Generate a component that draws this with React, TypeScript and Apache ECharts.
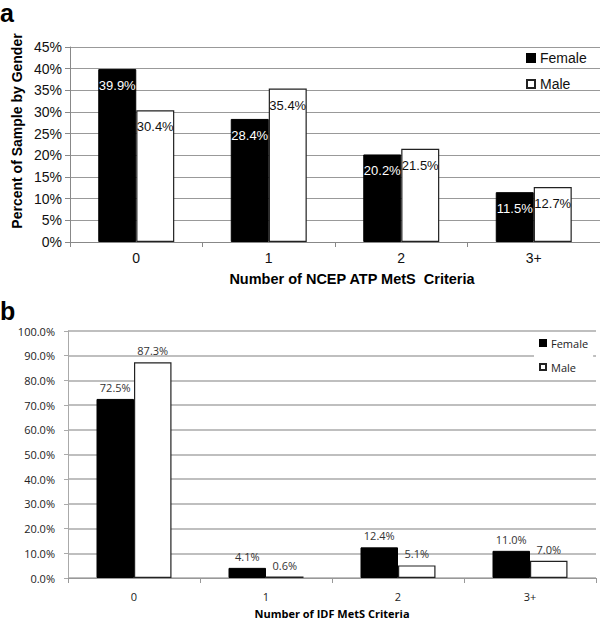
import React, { useEffect, useRef } from "react";
import * as echarts from "echarts";

const categories = ["0", "1", "2", "3+"];
const ncepFemale = [39.9, 28.4, 20.2, 11.5];
const ncepMale = [30.4, 35.4, 21.5, 12.7];
const idfFemale = [72.5, 4.1, 12.4, 11.0];
const idfMale = [87.3, 0.6, 5.1, 7.0];
const seriesNames = ["Female", "Male"];

const FA = "'Liberation Sans', Arial, Helvetica, sans-serif";
const FB = "'Open Sans', 'Noto Sans', sans-serif";

export default function App() {
  const ref = useRef<HTMLDivElement>(null);
  useEffect(() => {
    if (!ref.current) return;
    const chart = echarts.init(ref.current, null, { renderer: "svg" });
    const femaleStyle = { color: "#000", borderColor: "#000", borderWidth: 1 };
    const maleStyle = { color: "#fff", borderColor: "#222", borderWidth: 1.2 };
    chart.setOption({
      animation: false,
      backgroundColor: "#fff",
      grid: [
        { left: 70, top: 47, width: 530, height: 195 },
        { left: 68, top: 331, width: 528, height: 247 },
      ],
      legend: [
        {
          data: seriesNames,
          orient: "vertical",
          left: 521,
          top: 46,
          itemWidth: 8,
          itemHeight: 8,
          itemGap: 12,
          icon: "rect",
          textStyle: { fontFamily: FA, fontSize: 14, color: "#111", lineHeight: 14 },
        },
        {
          data: seriesNames,
          orient: "vertical",
          left: 534,
          top: 332,
          itemWidth: 6,
          itemHeight: 6,
          itemGap: 12,
          icon: "rect",
          backgroundColor: "#fff",
          textStyle: { fontFamily: FB, fontSize: 11, color: "#222", lineHeight: 12 },
        },
      ],
      xAxis: [
        {
          type: "category",
          gridIndex: 0,
          data: categories,
          axisLine: { lineStyle: { color: "#888", width: 1 } },
          axisTick: { show: true, length: 5, lineStyle: { color: "#888" } },
          axisLabel: { fontFamily: FA, fontSize: 14, color: "#111", margin: 9 },
        },
        {
          type: "category",
          gridIndex: 1,
          data: categories,
          axisLine: { lineStyle: { color: "#999", width: 1 } },
          axisTick: { show: true, length: 5, lineStyle: { color: "#999" } },
          axisLabel: { fontFamily: FB, fontSize: 11, color: "#222", margin: 13 },
        },
      ],
      yAxis: [
        {
          type: "value",
          gridIndex: 0,
          min: 0,
          max: 45,
          interval: 5,
          axisLine: { show: true, lineStyle: { color: "#888" } },
          axisTick: { show: true, length: 5, lineStyle: { color: "#888" } },
          axisLabel: { fontFamily: FA, fontSize: 14, color: "#111", margin: 8, formatter: "{value}%" },
          splitLine: { lineStyle: { color: "#999", width: 1 } },
        },
        {
          type: "value",
          gridIndex: 1,
          min: 0,
          max: 100,
          interval: 10,
          axisLine: { show: true, lineStyle: { color: "#aaa" } },
          axisTick: { show: true, length: 4, lineStyle: { color: "#aaa" } },
          axisLabel: {
            fontFamily: FB,
            fontSize: 11,
            color: "#222",
            margin: 13,
            formatter: (v: number) => v.toFixed(1) + "%",
          },
          splitLine: { lineStyle: { color: "#aaa", width: 1.5 } },
        },
      ],
      series: [
        {
          name: "Female",
          type: "bar",
          xAxisIndex: 0,
          yAxisIndex: 0,
          data: ncepFemale,
          barWidth: 38,
          barGap: "0%",
          itemStyle: femaleStyle,
          label: {
            show: true,
            position: "insideTop",
            distance: 10,
            color: "#fff",
            fontFamily: FA,
            fontSize: 13,
            formatter: (p: any) => p.value.toFixed(1) + "%",
          },
        },
        {
          name: "Male",
          type: "bar",
          xAxisIndex: 0,
          yAxisIndex: 0,
          data: ncepMale,
          barWidth: 38,
          barGap: "0%",
          itemStyle: maleStyle,
          label: {
            show: true,
            position: "insideTop",
            distance: 10,
            color: "#111",
            fontFamily: FA,
            fontSize: 13,
            formatter: (p: any) => p.value.toFixed(1) + "%",
          },
        },
        {
          name: "Female",
          type: "bar",
          xAxisIndex: 1,
          yAxisIndex: 1,
          data: idfFemale,
          barWidth: 37.5,
          barGap: "0%",
          itemStyle: femaleStyle,
          label: {
            show: true,
            position: "top",
            distance: 6,
            color: "#333",
            fontFamily: FB,
            fontSize: 11,
            formatter: (p: any) => p.value.toFixed(1) + "%",
          },
        },
        {
          name: "Male",
          type: "bar",
          xAxisIndex: 1,
          yAxisIndex: 1,
          data: idfMale,
          barWidth: 37.5,
          barGap: "0%",
          itemStyle: maleStyle,
          label: {
            show: true,
            position: "top",
            distance: 6,
            color: "#333",
            fontFamily: FB,
            fontSize: 11,
            formatter: (p: any) => p.value.toFixed(1) + "%",
          },
        },
      ],
      graphic: [
        {
          type: "text",
          left: 0,
          top: 0,
          style: { text: "a", font: "bold 25px " + FA, fill: "#000" },
        },
        {
          type: "text",
          left: 0,
          top: 298,
          style: { text: "b", font: "bold 25px " + FA, fill: "#000" },
        },
        {
          type: "text",
          x: 17,
          y: 131,
          rotation: Math.PI / 2,
          style: {
            text: "Percent of Sample by Gender",
            font: "bold 14px " + FA,
            fill: "#000",
            align: "center",
            verticalAlign: "middle",
          },
        },
        {
          type: "text",
          x: 352,
          y: 279,
          style: {
            text: "Number of NCEP ATP MetS  Criteria",
            font: "bold 14.5px " + FA,
            fill: "#000",
            align: "center",
            verticalAlign: "middle",
          },
        },
        {
          type: "text",
          x: 332,
          y: 613,
          style: {
            text: "Number of IDF MetS Criteria",
            font: "bold 11px " + FB,
            fill: "#000",
            align: "center",
            verticalAlign: "middle",
          },
        },
      ],
    });
    return () => chart.dispose();
  }, []);
  return (
    <div
      ref={ref}
      style={{ position: "absolute", left: 0, top: 0, width: 600, height: 620 }}
    />
  );
}
